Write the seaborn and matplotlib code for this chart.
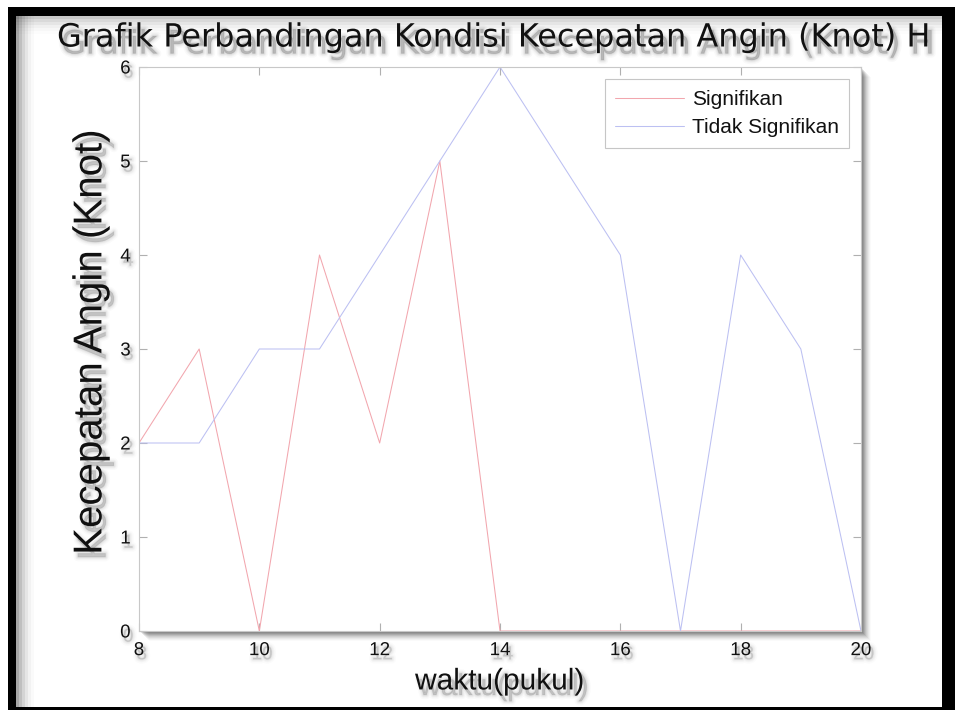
import numpy as np
import pandas as pd
import matplotlib
matplotlib.use("Agg")
import matplotlib.pyplot as plt
import matplotlib.patheffects as pe
from matplotlib.patches import Rectangle
import seaborn as sns

# Wind speed (knots) per hour of the day
hours = [8, 9, 10, 11, 12, 13, 14, 15, 16, 17, 18, 19, 20]
signifikan = [2, 3, 0, 4, 2, 5, 0, 0, 0, 0, 0, 0, 0]
tidak_signifikan = [2, 2, 3, 3, 4, 5, 6, 5, 4, 0, 4, 3, 0]
series_names = ["Signifikan", "Tidak Signifikan"]
x_ticks = [8, 10, 12, 14, 16, 18, 20]
y_ticks = [0, 1, 2, 3, 4, 5, 6]

df = pd.DataFrame({
    "waktu": hours * 2,
    "kecepatan": signifikan + tidak_signifikan,
    "kondisi": [series_names[0]] * len(hours) + [series_names[1]] * len(hours),
})

sns.set_theme(style="white")
plt.rcParams["font.family"] = ["Liberation Sans", "DejaVu Sans"]

W, H = 955, 710
fig = plt.figure(figsize=(W / 100, H / 100), dpi=100)
fig.patch.set_facecolor("white")


def px(x0, y0, w, h):
    """Figure-fraction box from pixel coordinates (origin top-left)."""
    return (x0 / W, 1 - (y0 + h) / H, w / W, h / H)


def soft_shadow(dx=3, dy=-3, strength=1.0):
    """Blurred drop shadow built from stacked translucent strokes."""
    effects = []
    for lw, a in [(6, 0.025), (4, 0.035), (2.5, 0.05), (1, 0.08)]:
        effects.append(pe.Stroke(offset=(dx, dy), linewidth=lw,
                                 foreground="#444444", alpha=a * strength))
    effects.append(pe.Normal())
    return effects


# soft inner shadow along the frame
for i, a in enumerate([0.35, 0.25, 0.17, 0.10, 0.05, 0.02]):
    x0, y0, w, h = px(16 + i * 3, 16, 3, 691)
    fig.patches.append(Rectangle((x0, y0), w, h, transform=fig.transFigure,
                                 color="black", alpha=a, lw=0, zorder=0))
    x0, y0, w, h = px(16, 16 + i * 3, 926, 3)
    fig.patches.append(Rectangle((x0, y0), w, h, transform=fig.transFigure,
                                 color="black", alpha=a * 0.6, lw=0, zorder=0))

# black frame
for box in [(8, 7, 940, 9), (8, 7, 8, 703), (942, 7, 13, 703), (8, 707, 947, 3)]:
    x0, y0, w, h = px(*box)
    fig.patches.append(Rectangle((x0, y0), w, h, transform=fig.transFigure,
                                 color="black", lw=0, zorder=5))

ax_left, ax_top, ax_right, ax_bottom = 139, 67, 861, 631
ax = fig.add_axes(px(ax_left, ax_top, ax_right - ax_left, ax_bottom - ax_top))
ax.set_zorder(2)

# drop shadow behind the axes box
for i, a in enumerate([0.10, 0.10, 0.09, 0.08, 0.06, 0.05, 0.04, 0.03, 0.02]):
    off = 2 + i
    x0, y0, w, h = px(ax_left + off, ax_top + off, ax_right - ax_left, ax_bottom - ax_top)
    fig.patches.append(Rectangle((x0, y0), w, h, transform=fig.transFigure,
                                 color="black", alpha=a, lw=0, zorder=1))

sns.lineplot(data=df, x="waktu", y="kecepatan", hue="kondisi",
             palette={series_names[0]: "#f2a6ae", series_names[1]: "#bcc0f2"},
             linewidth=0.75, ax=ax, legend=True)

ax.set_facecolor("white")
ax.set_xlim(8, 20)
ax.set_ylim(0, 6)
ax.set_xticks(x_ticks)
ax.set_yticks(y_ticks)
for s in ax.spines.values():
    s.set_color("#c8c8c8")
    s.set_linewidth(0.8)
ax.tick_params(axis="both", direction="in", length=6, width=0.8, color="#b0b0b0",
               top=True, right=True, bottom=True, left=True,
               labelsize=13.5, labelcolor="#111111")
ax.tick_params(axis="x", pad=8)
ax.tick_params(axis="y", pad=6)

for lab in ax.get_xticklabels() + ax.get_yticklabels():
    lab.set_path_effects(soft_shadow(2, -3, 0.8))

ax.set_xlabel("waktu(pukul)", fontsize=21.5, color="#111111", labelpad=6,
              path_effects=soft_shadow(3, -4))
ax.set_ylabel("Kecepatan Angin (Knot)", fontsize=29, color="#111111",
              path_effects=soft_shadow(3, -4))
ax.yaxis.set_label_coords(-0.041, 0.512)

leg = ax.legend(loc="upper right", bbox_to_anchor=(0.984, 0.978), fontsize=15,
                frameon=True, fancybox=False, handlelength=3.3, handletextpad=0.4,
                borderpad=0.5, labelspacing=0.45, borderaxespad=0)
leg.get_frame().set_edgecolor("#b8b8b8")
leg.get_frame().set_linewidth(0.8)
for t in leg.get_texts():
    t.set_color("#111111")

fig.text(57 / W, 1 - 38 / H, "Grafik Perbandingan Kondisi Kecepatan Angin (Knot) H",
         fontsize=23, family="DejaVu Sans", color="#111111", ha="left", va="center",
         zorder=3, path_effects=soft_shadow(3, -5, 1.2))

fig.savefig("out.png", dpi=100, facecolor="white")
